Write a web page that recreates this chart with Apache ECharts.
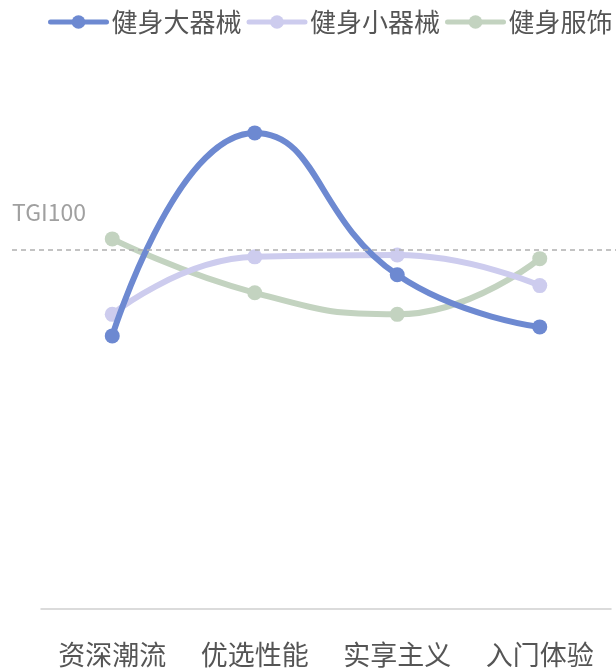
<!DOCTYPE html>
<html><head><meta charset="utf-8">
<script src="https://cdn.jsdelivr.net/npm/echarts@6/dist/echarts.min.js"></script>
<style>html,body{margin:0;padding:0;background:#fff}#c{width:616px;height:671px}</style>
</head><body><div id="c"></div>
<script>
const categories = ['资深潮流', '优选性能', '实享主义', '入门体验'];
const seriesNames = ['健身大器械', '健身小器械', '健身服饰'];
const bigEquipment = [76, 132.5, 93, 78.5];
const smallEquipment = [82, 98, 98.5, 90];
const apparel = [103, 88, 82, 97.5];
const tgiValue = 100;
const tgiLabel = 'TGI100';
const colors = ['#6D89D1', '#CDCCEE', '#C3D3C0'];

const font = '"Noto Sans CJK SC", "Noto Sans", sans-serif';
const chart = echarts.init(document.getElementById('c'));
const values = [bigEquipment, smallEquipment, apparel];
const series = seriesNames.map((name, i) => ({
  name, type: 'line', smooth: true, data: values[i],
  symbol: 'circle', symbolSize: 15,
  lineStyle: { width: 6, color: colors[i], cap: 'round' },
  itemStyle: { color: colors[i] },
  z: 3 - i
}));
series[0].markLine = {
  silent: true, symbol: 'none',
  lineStyle: { type: [5, 4], color: '#b0b0b0', width: 1.5 },
  label: { show: true, position: 'insideStartTop', formatter: tgiLabel, color: '#a0a0a0', fontSize: 23, fontFamily: font, distance: [0, 26] },
  data: [[{ yAxis: tgiValue, x: 12 }, { yAxis: tgiValue, x: 616 }]]
};
chart.setOption({
  animation: false,
  color: colors,
  textStyle: { fontFamily: font },
  legend: {
    top: 9, left: 48, width: 568, padding: 0, itemWidth: 56, itemHeight: 17, itemGap: 5,
    lineStyle: { width: 5, cap: 'round' },
    textStyle: { fontSize: 26, color: '#555', fontFamily: font },
    data: seriesNames
  },
  grid: { left: 41, right: 5, top: 70, bottom: 62 },
  xAxis: {
    type: 'category', data: categories, boundaryGap: true,
    axisLine: { lineStyle: { color: '#d0d0d0', width: 1.5 } },
    axisTick: { show: false },
    axisLabel: { fontSize: 27, color: '#555', margin: 32, fontFamily: font, interval: 0 }
  },
  yAxis: {
    type: 'value', min: 0, max: 150, show: false, splitLine: { show: false }
  },
  series
});
</script></body></html>
